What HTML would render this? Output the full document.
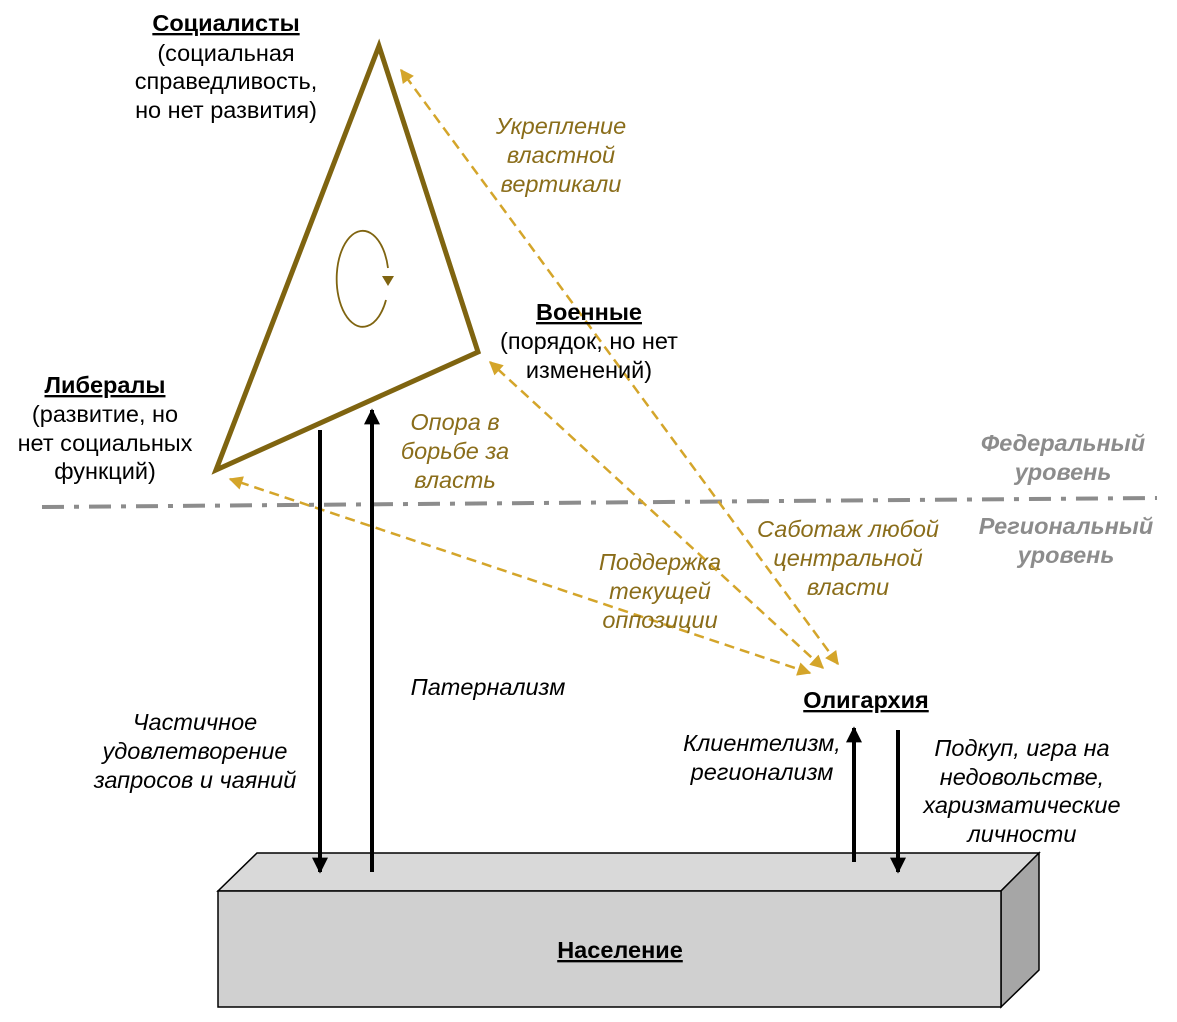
<!DOCTYPE html>
<html><head><meta charset="utf-8"><style>
html,body{margin:0;padding:0;background:#fff}
svg{display:block}
text{font-family:"Liberation Sans",sans-serif;font-size:23.5px}
.b{font-weight:bold;text-decoration:underline}
.o{fill:#8a6d1a;font-style:italic}
.g{fill:#8c8c8c;font-style:italic;font-weight:bold}
.i{font-style:italic}
</style></head><body>
<svg width="1177" height="1022" viewBox="0 0 1177 1022" xmlns="http://www.w3.org/2000/svg">
<defs>
<marker id="ga" viewBox="0 0 10 10" refX="9" refY="5" markerWidth="6" markerHeight="5.5" orient="auto-start-reverse"><path d="M0,0 L10,5 L0,10 z" fill="#d4a52a"/></marker>
<marker id="ba" viewBox="0 0 10 10" refX="9" refY="5" markerWidth="4.5" markerHeight="4" orient="auto"><path d="M0,0 L10,5 L0,10 z" fill="#000"/></marker>
</defs>
<polygon points="218,891 257,853 1039,853 1001,891" fill="#d9d9d9" stroke="#000" stroke-width="1.5"/>
<polygon points="1001,891 1039,853 1039,970 1001,1007" fill="#a6a6a6" stroke="#000" stroke-width="1.5"/>
<rect x="218" y="891" width="783" height="116" fill="#d0d0d0" stroke="#000" stroke-width="1.5"/>
<line x1="42" y1="507" x2="1157" y2="498" stroke="#8c8c8c" stroke-width="4" stroke-dasharray="22,10,5,10"/>
<polygon points="379,46 478,352 216,470" fill="none" stroke="#7f6410" stroke-width="5" stroke-linejoin="miter"/>
<path d="M386,300 A26,48 0 1 1 388,268" fill="none" stroke="#7f6410" stroke-width="1.8"/>
<path d="M382,276 L394,276 L388,286 z" fill="#7f6410"/>
<g stroke="#d4a52a" stroke-width="2.5" stroke-dasharray="10,6" fill="none">
<line x1="838" y1="664" x2="401" y2="70" marker-start="url(#ga)" marker-end="url(#ga)"/>
<line x1="823" y1="668" x2="490" y2="362" marker-start="url(#ga)" marker-end="url(#ga)"/>
<line x1="810" y1="673" x2="230" y2="479" marker-start="url(#ga)" marker-end="url(#ga)"/>
</g>
<g stroke="#000" stroke-width="4">
<line x1="320" y1="430" x2="320" y2="872" marker-end="url(#ba)"/>
<line x1="372" y1="872" x2="372" y2="410" marker-end="url(#ba)"/>
<line x1="854" y1="862" x2="854" y2="728" marker-end="url(#ba)"/>
<line x1="898" y1="730" x2="898" y2="872" marker-end="url(#ba)"/>
</g>
<g text-anchor="middle">
<text x="226" y="31" class="b">Социалисты</text>
<text x="226" y="61">(социальная</text>
<text x="226" y="89">справедливость,</text>
<text x="226" y="118">но нет развития)</text>
<text x="589" y="320" class="b">Военные</text>
<text x="589" y="349">(порядок, но нет</text>
<text x="589" y="378">изменений)</text>
<text x="105" y="393" class="b">Либералы</text>
<text x="105" y="422">(развитие, но</text>
<text x="105" y="451">нет социальных</text>
<text x="105" y="479">функций)</text>
<text x="561" y="134" class="o">Укрепление</text>
<text x="561" y="163" class="o">властной</text>
<text x="561" y="192" class="o">вертикали</text>
<text x="455" y="430" class="o">Опора в</text>
<text x="455" y="459" class="o">борьбе за</text>
<text x="455" y="488" class="o">власть</text>
<text x="1063" y="451" class="g">Федеральный</text>
<text x="1063" y="480" class="g">уровень</text>
<text x="1066" y="534" class="g">Региональный</text>
<text x="1066" y="563" class="g">уровень</text>
<text x="848" y="537" class="o">Саботаж любой</text>
<text x="848" y="566" class="o">центральной</text>
<text x="848" y="595" class="o">власти</text>
<text x="660" y="570" class="o">Поддержка</text>
<text x="660" y="599" class="o">текущей</text>
<text x="660" y="628" class="o">оппозиции</text>
<text x="488" y="695" class="i">Патернализм</text>
<text x="195" y="730" class="i">Частичное</text>
<text x="195" y="759" class="i">удовлетворение</text>
<text x="195" y="788" class="i">запросов и чаяний</text>
<text x="866" y="708" class="b">Олигархия</text>
<text x="762" y="751" class="i">Клиентелизм,</text>
<text x="762" y="780" class="i">регионализм</text>
<text x="1022" y="756" class="i">Подкуп, игра на</text>
<text x="1022" y="785" class="i">недовольстве,</text>
<text x="1022" y="813" class="i">харизматические</text>
<text x="1022" y="842" class="i">личности</text>
<text x="620" y="958" class="b">Население</text>
</g>
</svg>
</body></html>
